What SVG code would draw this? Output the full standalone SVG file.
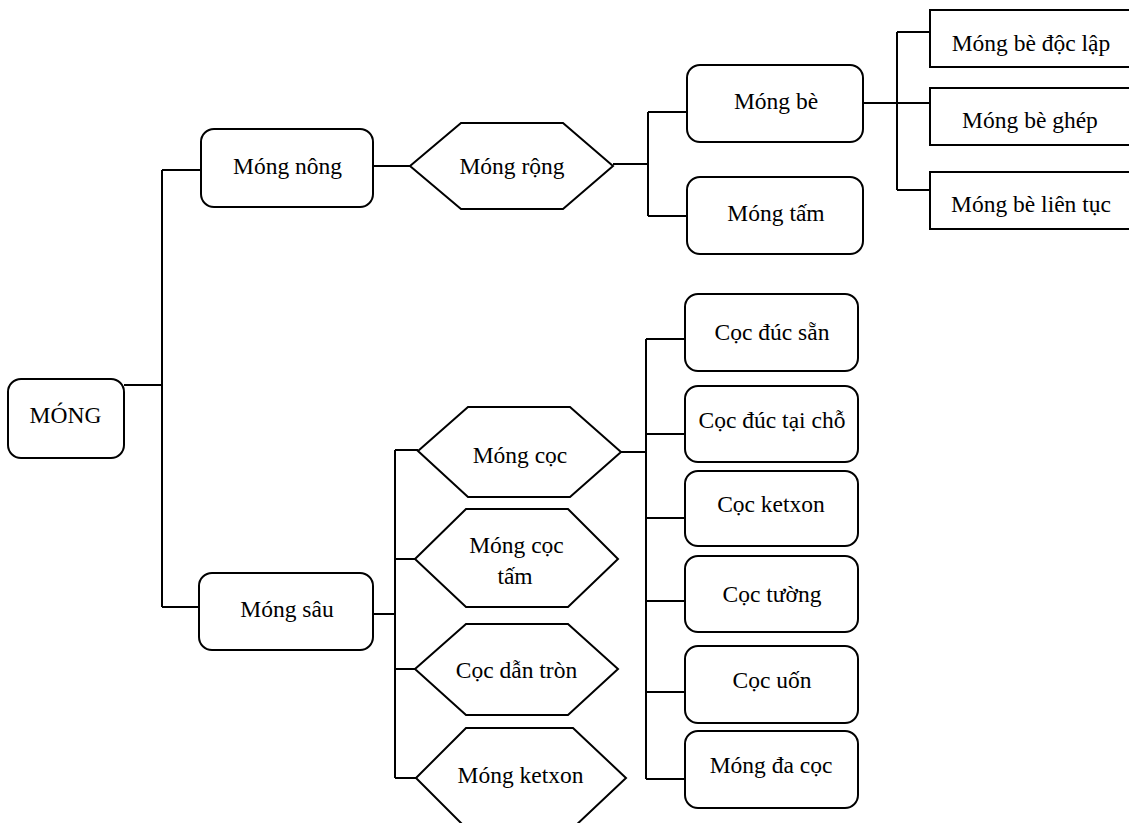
<svg xmlns="http://www.w3.org/2000/svg" width="1129" height="823" viewBox="0 0 1129 823">
<style>
.b{fill:#fff;stroke:#000;stroke-width:2}
.c{fill:none;stroke:#000;stroke-width:2}
text{font-family:"Liberation Serif","Times New Roman",serif;font-size:23.5px;fill:#000;text-anchor:middle}
</style>
<rect width="1129" height="823" fill="#fff"/>
<g id="connectors" class="c">
<path d="M124 385H162M162 170V607M162 170H201M162 607H199"/>
<path d="M373 166H410"/>
<path d="M613 164H648M648 112V216M648 112H687M648 216H687"/>
<path d="M863 103H930M897 32V190M897 32H930M897 190H930"/>
<path d="M373 614H395M395 450V778M395 450H418M395 559H415M395 669H415M395 778H416"/>
<path d="M621 452H646M646 339V779M646 339H685M646 434H685M646 518H685M646 601H685M646 692H685M646 779H685"/>
</g>
<g id="n-mong"><rect class="b" x="8" y="379" width="116" height="79" rx="13"/><text x="65.5" y="423">MÓNG</text></g>
<g id="n-mong-nong"><rect class="b" x="201" y="129" width="172" height="78" rx="13"/><text x="287.5" y="174">Móng nông</text></g>
<g id="n-mong-rong"><polygon class="b" points="410,166 461,123 563,123 613,166 563,209 461,209"/><text x="512" y="174">Móng rộng</text></g>
<g id="n-mong-be"><rect class="b" x="687" y="65" width="176" height="77" rx="13"/><text x="776" y="109">Móng bè</text></g>
<g id="n-mong-tam"><rect class="b" x="687" y="177" width="176" height="77" rx="13"/><text x="776" y="221">Móng tấm</text></g>
<g id="n-be-doc-lap"><rect class="b" x="930" y="10" width="200" height="57"/><text x="1031" y="51">Móng bè độc lập</text></g>
<g id="n-be-ghep"><rect class="b" x="930" y="88" width="200" height="57"/><text x="1030" y="128">Móng bè ghép</text></g>
<g id="n-be-lien-tuc"><rect class="b" x="930" y="172" width="200" height="57"/><text x="1031" y="212">Móng bè liên tục</text></g>
<g id="n-mong-sau"><rect class="b" x="199" y="573" width="174" height="77" rx="13"/><text x="287" y="617">Móng sâu</text></g>
<g id="n-mong-coc"><polygon class="b" points="418,451 468,407 570,407 621,452 570,497 468,497"/><text x="520" y="463">Móng cọc</text></g>
<g id="n-mong-coc-tam"><polygon class="b" points="415,559 466,509 568,509 618,559 568,607 466,607"/><text x="516.5" y="553">Móng cọc</text><text x="515" y="584">tấm</text></g>
<g id="n-coc-dan-tron"><polygon class="b" points="415,669 466,624 568,624 618,669 568,715 466,715"/><text x="516.5" y="678">Cọc dẫn tròn</text></g>
<g id="n-mong-ketxon"><polygon class="b" points="416,778 466,728 573,728 626,778 573,828 466,828"/><text x="520.5" y="783">Móng ketxon</text></g>
<g id="n-coc-duc-san"><rect class="b" x="685" y="294" width="173" height="77" rx="13"/><text x="772" y="340">Cọc đúc sẵn</text></g>
<g id="n-coc-duc-tai-cho"><rect class="b" x="685" y="386" width="173" height="76" rx="13"/><text x="772" y="428">Cọc đúc tại chỗ</text></g>
<g id="n-coc-ketxon"><rect class="b" x="685" y="471" width="173" height="75" rx="13"/><text x="771" y="512">Cọc ketxon</text></g>
<g id="n-coc-tuong"><rect class="b" x="685" y="556" width="173" height="76" rx="13"/><text x="772" y="602">Cọc tường</text></g>
<g id="n-coc-uon"><rect class="b" x="685" y="646" width="173" height="77" rx="13"/><text x="772" y="688">Cọc uốn</text></g>
<g id="n-mong-da-coc"><rect class="b" x="685" y="731" width="173" height="77" rx="13"/><text x="771" y="773">Móng đa cọc</text></g>
</svg>
